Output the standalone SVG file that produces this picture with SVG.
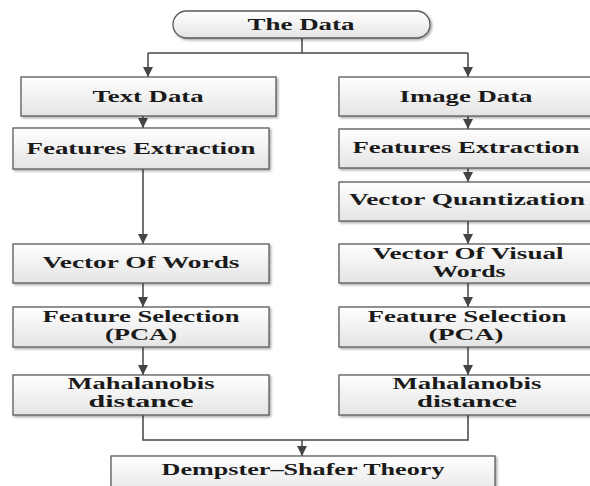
<svg xmlns="http://www.w3.org/2000/svg" width="590" height="486" viewBox="0 0 590 486">
  <defs>
    <linearGradient id="g" x1="0" y1="0" x2="0" y2="1">
      <stop offset="0" stop-color="#ffffff"/>
      <stop offset="1" stop-color="#e4e4e4"/>
    </linearGradient>
    <filter id="sh" x="-5%" y="-10%" width="115%" height="130%">
      <feDropShadow dx="1.5" dy="1.5" stdDeviation="0.8" flood-color="#000" flood-opacity="0.35"/>
    </filter>
    <marker id="arr" markerUnits="userSpaceOnUse" markerWidth="12" markerHeight="10" viewBox="0 0 12 10" refX="10" refY="5" orient="auto">
      <path d="M0,0 L10,5 L0,10 z" fill="#444"/>
    </marker>
  </defs>
  <style>
    .box { fill: url(#g); stroke: #5a5a5a; stroke-width: 1.3; filter: url(#sh); }
    .t { font-family: "Liberation Serif", "Times New Roman", serif; font-weight: bold; font-size: 17px; fill: #1a1a1a; text-anchor: middle; }
    .t2 { font-size: 16px; }
    .c { fill: none; stroke: #444; stroke-width: 1.5; }
  </style>

  <g id="connectors">
    <path class="c" d="M302,38 V53"/>
    <path class="c" d="M148,53 H468"/>
    <path class="c" d="M148,53 V77" marker-end="url(#arr)"/>
    <path class="c" d="M468,53 V77" marker-end="url(#arr)"/>
    <path class="c" d="M143,116 V128" marker-end="url(#arr)"/>
    <path class="c" d="M143,169 V244" marker-end="url(#arr)"/>
    <path class="c" d="M143,283 V307" marker-end="url(#arr)"/>
    <path class="c" d="M143,347 V375" marker-end="url(#arr)"/>
    <path class="c" d="M468,116 V129" marker-end="url(#arr)"/>
    <path class="c" d="M468,168 V182" marker-end="url(#arr)"/>
    <path class="c" d="M468,221 V244" marker-end="url(#arr)"/>
    <path class="c" d="M468,283 V307" marker-end="url(#arr)"/>
    <path class="c" d="M468,347 V375" marker-end="url(#arr)"/>
    <path class="c" d="M143,415 V440 H468 V415"/>
    <path class="c" d="M302,440 V456" marker-end="url(#arr)"/>
  </g>

  <g id="the-data">
    <rect class="box" x="173" y="11" width="257" height="27" rx="13.5"/>
    <text class="t" x="301" y="30" textLength="107" lengthAdjust="spacingAndGlyphs">The Data</text>
  </g>

  <g id="text-data">
    <rect class="box" x="21" y="77" width="255" height="39"/>
    <text class="t" x="148" y="102" textLength="111" lengthAdjust="spacingAndGlyphs">Text Data</text>
  </g>
  <g id="features-extraction-left">
    <rect class="box" x="13" y="128" width="256" height="41"/>
    <text class="t" x="141" y="154" textLength="229" lengthAdjust="spacingAndGlyphs">Features Extraction</text>
  </g>
  <g id="vector-of-words">
    <rect class="box" x="13" y="244" width="256" height="39"/>
    <text class="t" x="141" y="268" textLength="197" lengthAdjust="spacingAndGlyphs">Vector Of Words</text>
  </g>
  <g id="feature-selection-left">
    <rect class="box" x="13" y="307" width="256" height="40"/>
    <text class="t t2" x="141" y="322" textLength="197" lengthAdjust="spacingAndGlyphs">Feature Selection</text>
    <text class="t t2" x="141" y="340" textLength="72" lengthAdjust="spacingAndGlyphs">(PCA)</text>
  </g>
  <g id="mahalanobis-left">
    <rect class="box" x="13" y="375" width="256" height="40"/>
    <text class="t t2" x="141" y="389" textLength="147" lengthAdjust="spacingAndGlyphs">Mahalanobis</text>
    <text class="t t2" x="141" y="407" textLength="105" lengthAdjust="spacingAndGlyphs">distance</text>
  </g>

  <g id="image-data">
    <rect class="box" x="339" y="77" width="258" height="39"/>
    <text class="t" x="466" y="102" textLength="133" lengthAdjust="spacingAndGlyphs">Image Data</text>
  </g>
  <g id="features-extraction-right">
    <rect class="box" x="339" y="129" width="258" height="39"/>
    <text class="t" x="466" y="153" textLength="227" lengthAdjust="spacingAndGlyphs">Features Extraction</text>
  </g>
  <g id="vector-quantization">
    <rect class="box" x="339" y="182" width="258" height="39"/>
    <text class="t" x="467" y="205" textLength="236" lengthAdjust="spacingAndGlyphs">Vector Quantization</text>
  </g>
  <g id="vector-of-visual-words">
    <rect class="box" x="339" y="244" width="258" height="39"/>
    <text class="t t2" x="468" y="259" textLength="191" lengthAdjust="spacingAndGlyphs">Vector Of Visual</text>
    <text class="t t2" x="469" y="277" textLength="73" lengthAdjust="spacingAndGlyphs">Words</text>
  </g>
  <g id="feature-selection-right">
    <rect class="box" x="339" y="307" width="258" height="40"/>
    <text class="t t2" x="467" y="322" textLength="199" lengthAdjust="spacingAndGlyphs">Feature Selection</text>
    <text class="t t2" x="466" y="340" textLength="75" lengthAdjust="spacingAndGlyphs">(PCA)</text>
  </g>
  <g id="mahalanobis-right">
    <rect class="box" x="339" y="375" width="258" height="40"/>
    <text class="t t2" x="467" y="389" textLength="149" lengthAdjust="spacingAndGlyphs">Mahalanobis</text>
    <text class="t t2" x="467" y="407" textLength="100" lengthAdjust="spacingAndGlyphs">distance</text>
  </g>

  <g id="dempster-shafer">
    <rect class="box" x="111" y="456" width="384" height="40"/>
    <text class="t" x="303" y="475" textLength="283" lengthAdjust="spacingAndGlyphs">Dempster–Shafer Theory</text>
  </g>
</svg>
